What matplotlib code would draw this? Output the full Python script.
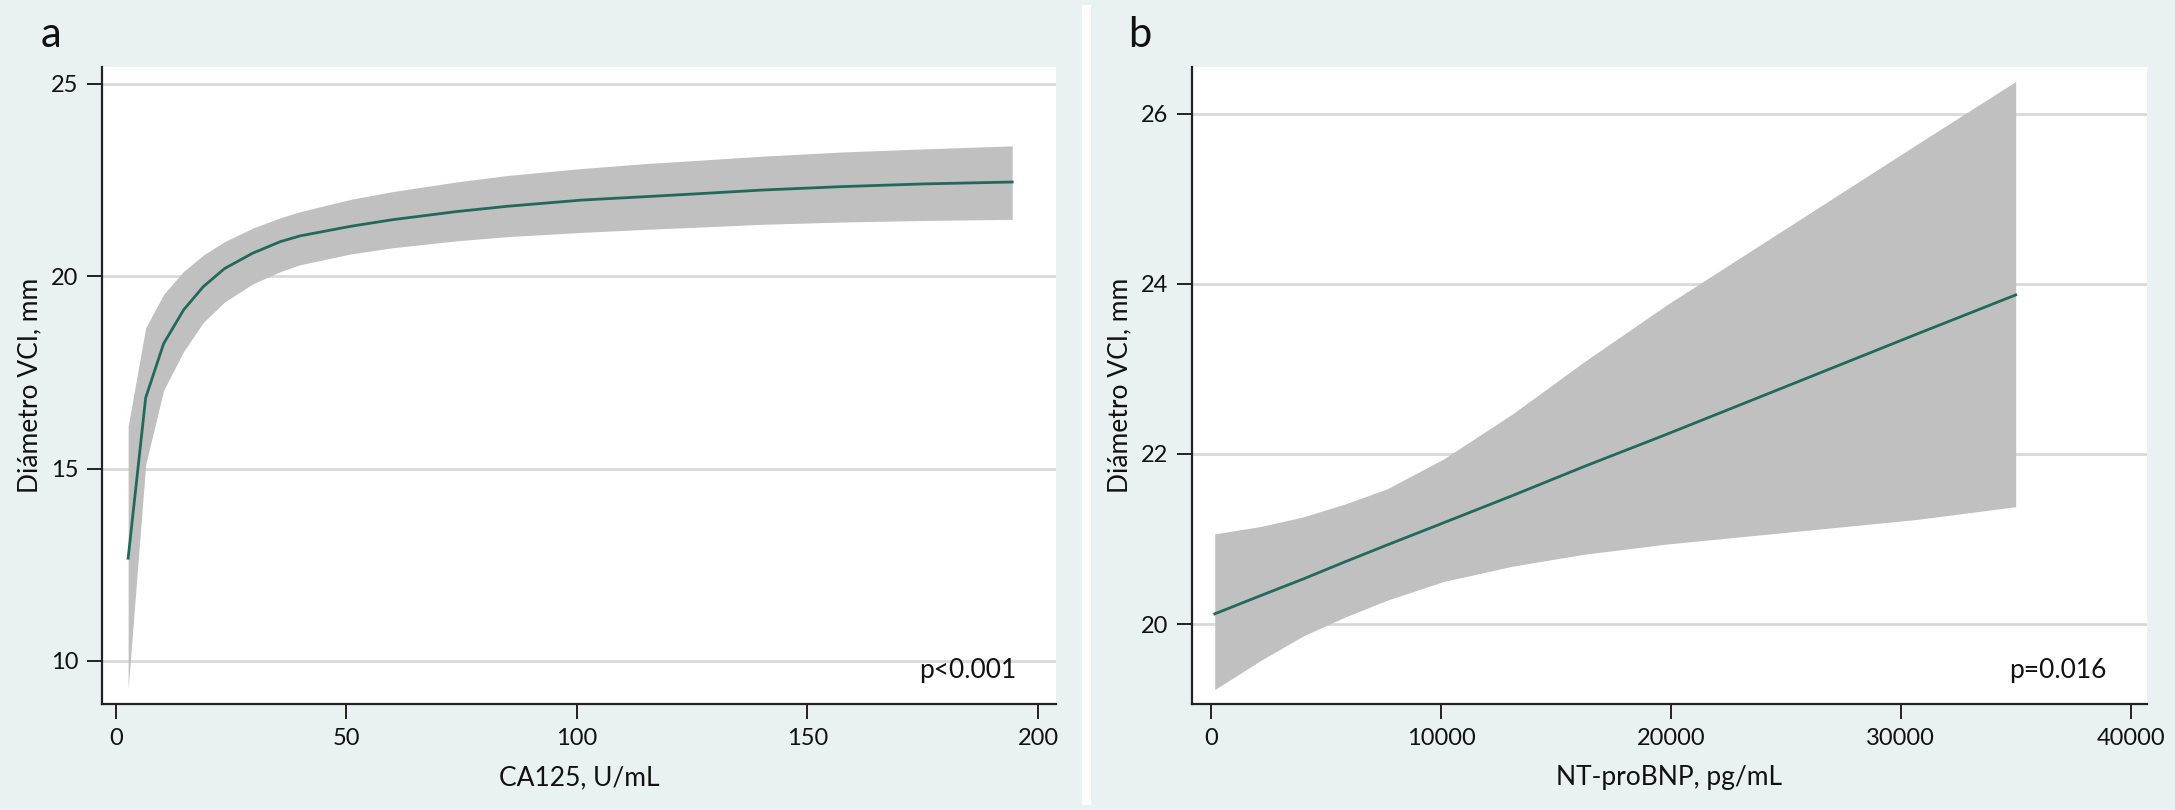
import numpy as np
import matplotlib
matplotlib.use("Agg")
import matplotlib.pyplot as plt
from matplotlib.patches import Rectangle

plt.rcParams['font.family'] = ['Lato', 'DejaVu Sans']

# ---- panel a: CA125 ----
ca125 = [2.7, 6.5, 10.4, 14.75, 19, 23.6, 29.7, 35.7, 40, 51, 60, 73.8, 85, 101, 115, 127, 140, 157.4, 175, 194.4]
fit_a = [12.67, 16.84, 18.25, 19.13, 19.73, 20.2, 20.6, 20.9, 21.05, 21.3, 21.47, 21.68, 21.82, 21.98, 22.07, 22.15, 22.24, 22.33, 22.40, 22.45]
upper_a = [16.1, 18.66, 19.53, 20.13, 20.55, 20.9, 21.25, 21.52, 21.68, 22.0, 22.2, 22.45, 22.62, 22.8, 22.93, 23.02, 23.12, 23.23, 23.31, 23.39]
lower_a = [9.27, 15.1, 17.04, 18.05, 18.8, 19.33, 19.8, 20.12, 20.3, 20.58, 20.74, 20.92, 21.03, 21.14, 21.22, 21.28, 21.35, 21.41, 21.45, 21.48]

# ---- panel b: NT-proBNP ----
ntprobnp = [150, 2200, 4000, 5800, 7650, 10100, 13100, 16200, 19800, 24700, 30700, 35000]
fit_b = [20.12, 20.34, 20.53, 20.73, 20.93, 21.19, 21.51, 21.85, 22.23, 22.76, 23.41, 23.87]
upper_b = [21.06, 21.15, 21.26, 21.41, 21.59, 21.94, 22.47, 23.08, 23.75, 24.6, 25.64, 26.38]
lower_b = [19.23, 19.58, 19.86, 20.08, 20.28, 20.5, 20.68, 20.82, 20.94, 21.07, 21.23, 21.38]

bg = '#EAF1F3'
band_col = '#C0C0C0'
line_col = '#23695B'
grid_col = '#D9D9D9'

W, H = 2175, 810
fig = plt.figure(figsize=(W / 100, H / 100), dpi=100, facecolor=bg)

# white separator strip between panels
fig.patches.append(Rectangle((1082 / W, 5 / H), 9 / W, 800 / H,
                             transform=fig.transFigure, facecolor='white',
                             edgecolor='none', zorder=0))


def make_panel(rect, x, fit, lo, hi, xlim, ylim, yticks, xticks, xlabel, ptext, letter, letter_x):
    ax = fig.add_axes(rect)
    ax.set_facecolor('white')
    ax.fill_between(x, lo, hi, color=band_col, linewidth=0, zorder=2)
    ax.plot(x, fit, color=line_col, linewidth=2, zorder=3)
    ax.set_xlim(*xlim)
    ax.set_ylim(*ylim)
    ax.set_yticks(yticks)
    ax.set_xticks(xticks)
    ax.yaxis.grid(True, color=grid_col, linewidth=2)
    ax.set_axisbelow(True)
    for s in ['top', 'right']:
        ax.spines[s].set_visible(False)
    for s in ['left', 'bottom']:
        ax.spines[s].set_color('#222222')
        ax.spines[s].set_linewidth(1.6)
    ax.tick_params(axis='both', direction='out', length=11, width=1.4,
                   color='#222222', labelsize=17, labelcolor='#111111', pad=6)
    ax.set_xlabel(xlabel, fontsize=19, color='#111111', labelpad=12)
    ax.set_ylabel('Diámetro VCI, mm', fontsize=19, color='#111111', labelpad=6)
    ax.text(0.958, 0.053, ptext, transform=ax.transAxes, ha='right', va='center',
            fontsize=19, color='#111111')
    fig.text(letter_x / W, 1 - 47 / H, letter, fontsize=30, color='#111111',
             ha='left', va='baseline')
    return ax


bottom = (H - 704) / H
height = 637 / H

make_panel([102 / W, bottom, 954 / W, height], ca125, fit_a, lower_a, upper_a,
           (-2.97, 203.9), (8.88, 25.44), [10, 15, 20, 25], [0, 50, 100, 150, 200],
           'CA125, U/mL', 'p<0.001', 'a', 41)

make_panel([1191.7 / W, bottom, 955 / W, height], ntprobnp, fit_b, lower_b, upper_b,
           (-853, 40700), (19.06, 26.55), [20, 22, 24, 26], [0, 10000, 20000, 30000, 40000],
           'NT-proBNP, pg/mL', 'p=0.016', 'b', 1128)

fig.savefig('out.png', dpi=100, facecolor=bg)
